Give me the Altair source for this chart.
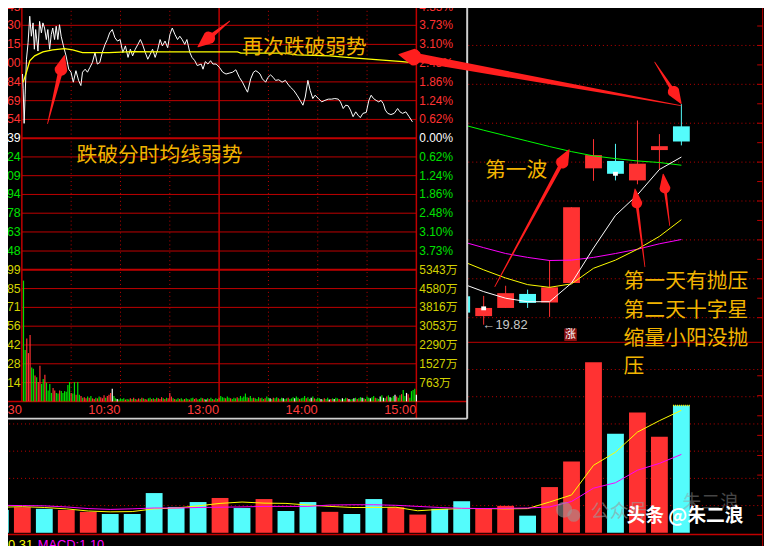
import altair as alt
import pandas as pd

# ------------------------------------------------------------------
# Intraday panel (分时): minutes after 9:30 (0..240), % vs prev close 24.39
# ------------------------------------------------------------------
price_min = [0.4, 0.8, 1.4, 2.0, 2.8, 3.8, 4.8, 5.8, 6.8, 7.6,
             8.4, 9.8, 10.8, 11.9, 12.8, 13.8, 14.9, 15.8, 16.9, 17.9,
             18.8, 19.9, 20.9, 21.9, 22.9, 23.9, 25.3, 26.9, 28.5, 29.9,
             31.3, 32.9, 34.5, 35.9, 36.9, 38.5, 39.9, 41.4, 42.9, 44.5,
             45.9, 47.4, 48.9, 50.6, 52.0, 53.4, 55.0, 56.6, 58.2, 59.8,
             61.4, 63.0, 64.6, 66.0, 67.4, 69.0, 70.6, 72.1, 73.4, 75.1,
             76.6, 78.1, 79.5, 81.1, 82.7, 84.1, 85.5, 87.1, 88.7, 90.1,
             91.5, 93.1, 94.7, 96.1, 97.5, 99.1, 100.4, 102.2, 103.5, 105.2,
             106.7, 109.1, 110.2, 111.6, 113.2, 114.8, 116.2, 118.2, 120.2, 122.2,
             124.2, 126.2, 128.2, 130.2, 132.3, 134.2, 136.2, 137.3, 139.2, 140.9,
             142.3, 143.7, 144.9, 146.3, 148.3, 149.7, 151.3, 152.9, 154.3, 156.3,
             158.3, 160.3, 161.8, 163.3, 165.4, 167.4, 169.3, 171.0, 172.4, 174.0,
             175.4, 177.0, 178.4, 180.4, 182.4, 184.4, 186.4, 188.4, 190.4, 192.5,
             193.8, 195.5, 197.0, 198.5, 199.9, 201.5, 203.1, 204.5, 205.9, 207.5,
             209.5, 211.1, 212.5, 213.9, 215.5, 217.1, 218.5, 219.9, 221.1, 222.6,
             224.5, 226.5, 228.6, 230.0, 231.6, 233.6, 235.6, 237.6]
price_pct = [2.12, 1.63, 0.49, 1.43, 2.61, 3.16, 4.03, 3.37, 3.81, 2.94,
             3.59, 2.88, 3.86, 3.48, 3.81, 3.64, 3.26, 3.59, 2.94, 3.43,
             3.64, 3.26, 3.70, 3.26, 3.75, 3.37, 3.05, 2.72, 2.28, 2.18,
             1.85, 2.23, 1.91, 1.74, 2.18, 2.28, 2.18, 2.34, 2.50, 2.83,
             2.45, 2.50, 2.83, 3.10, 3.26, 3.48, 3.59, 3.32, 3.21, 3.26,
             2.83, 3.05, 2.67, 2.94, 2.72, 2.94, 3.10, 3.26, 3.10, 2.83,
             2.61, 2.77, 2.94, 2.67, 2.94, 3.26, 3.05, 3.21, 2.99, 3.43,
             3.64, 3.43, 3.26, 3.37, 3.26, 3.10, 3.26, 2.83, 2.67, 2.56,
             2.40, 2.45, 2.28, 2.53, 2.45, 2.56, 2.45, 2.45, 2.34, 2.18,
             2.12, 2.15, 2.18, 2.26, 2.01, 1.85, 1.63, 1.52, 1.96, 2.18,
             2.23, 2.18, 2.12, 1.96, 1.85, 2.01, 2.09, 2.01, 1.91, 1.93,
             1.85, 1.91, 1.79, 1.69, 1.58, 1.42, 1.25, 1.09, 1.36, 1.91,
             1.58, 1.31, 1.42, 1.31, 1.20, 1.25, 1.29, 1.29, 1.31, 1.29,
             1.20, 0.98, 1.09, 1.07, 0.93, 0.71, 0.87, 0.76, 0.68, 0.82,
             0.85, 1.25, 1.42, 1.31, 1.25, 1.20, 1.25, 1.14, 0.93, 0.82,
             0.78, 0.82, 0.98, 0.87, 0.82, 0.87, 0.71, 0.54]
avg_min = [0.8, 2.8, 4.8, 7.8, 12.8, 18.8, 25.9, 30.9, 36.9, 53.0, 67.0, 87.1,
           107.2, 131.2, 133.2, 159.3, 167.4, 187.4, 197.5, 217.5, 231.6, 237.6]
avg_pct = [1.85, 2.18, 2.56, 2.72, 2.85, 2.92, 2.96, 2.92, 2.83, 2.83, 2.86, 2.85,
           2.85, 2.85, 2.81, 2.81, 2.75, 2.72, 2.67, 2.59, 2.53, 2.50]
# per-minute volume (百手), minutes 1..240, and tick direction r/g/w
ivol = [200, 85, 104, 80, 110, 56, 54, 43, 40, 32, 59, 29, 37, 44, 31, 18, 29, 14, 22, 18,
        14, 13, 18, 17, 14, 17, 16, 27, 32, 14, 13, 32, 11, 32, 11, 9, 6, 7, 5, 8,
        6, 9, 5, 4, 6, 5, 8, 7, 5, 10, 6, 9, 11, 14, 21, 9, 5, 4, 3, 5,
        4, 5, 3, 4, 3, 5, 4, 6, 4, 3, 5, 4, 6, 5, 4, 3, 5, 6, 4, 5,
        4, 6, 5, 4, 7, 5, 4, 6, 5, 14, 8, 5, 4, 3, 5, 4, 5, 3, 4, 5,
        4, 3, 5, 6, 4, 5, 3, 4, 6, 5, 4, 3, 5, 4, 6, 4, 3, 5, 4, 6,
        9, 7, 6, 5, 8, 6, 5, 4, 6, 5, 7, 5, 9, 6, 8, 13, 7, 6, 9, 5,
        6, 5, 4, 7, 5, 6, 4, 5, 8, 6, 5, 4, 6, 5, 7, 5, 4, 6, 5, 4,
        5, 6, 4, 5, 7, 5, 8, 6, 4, 5, 6, 9, 5, 7, 4, 6, 8, 5, 4, 6,
        5, 4, 3, 5, 4, 6, 3, 4, 5, 4, 6, 5, 4, 3, 5, 4, 6, 5, 4, 3,
        4, 5, 6, 4, 5, 7, 6, 5, 4, 8, 6, 5, 7, 9, 6, 5, 4, 8, 10, 6,
        5, 8, 10, 7, 6, 9, 11, 8, 6, 10, 12, 19, 9, 14, 12, 6, 17, 19, 21, 11]
ivol_dir = ("ggrrrggrgrrggrggggrr" "ggrggggggrggrggrgrrg" "rgrrgrgrrrgrrrwggwgg"
            "ggrggrgrgrrgrgrrggrg" "rgrrrgrgrrrgrggrggrg" "grggrrgggrgwgrggrggr"
            "gggrggrgggrggggggrgg" "rgggrggrggwgrggrggwg" "grgggwggrgggrggwgrgg"
            "gwgrggwrgwggrgwggrwg" "gwgrggwgrggwggrggwgw" "grgwggwrggrggwrggggw")

pct_ticks = [4.35, 3.73, 3.10, 2.48, 1.86, 1.24, 0.62, 0.0,
             -0.62, -1.24, -1.86, -2.48, -3.10, -3.73]
pct_labels = ["4.35%", "3.73%", "3.10%", "2.48%", "1.86%", "1.24%", "0.62%", "0.00%",
              "0.62%", "1.24%", "1.86%", "2.48%", "3.10%", "3.73%"]
price_labels = ["25.45", "25.30", "25.15", "25.00", "24.84", "24.69", "24.54", "24.39",
                "24.24", "24.09", "23.94", "23.78", "23.63", "23.48"]
ivol_ticks = [217.99, 186.85, 155.71, 124.56, 93.42, 62.28, 31.14]
ivol_left_labels = ["21799", "18685", "15571", "12456", "9342", "6228", "3114"]
ivol_right_labels = ["5343万", "4580万", "3816万", "3053万", "2290万", "1527万", "763万"]
time_ticks = [0, 60, 120, 180, 240]
time_labels = ["9:30", "10:30", "13:00", "14:00", "15:00"]
time_grid = [30, 60, 90, 150, 180, 210]

# ------------------------------------------------------------------
# Daily K-line panel: day index 0..31 (31 = the intraday day)
# ------------------------------------------------------------------
cdl_idx = list(range(21, 32))
cdl_open = [20.55, 20.04, 20.25, 20.61, 20.39, 20.89, 23.84, 24.03, 23.53, 24.31, 24.92]
cdl_close = [20.13, 20.25, 20.63, 20.38, 20.78, 22.84, 24.18, 23.70, 23.96, 24.41, 24.53]
cdl_high = [20.60, 20.56, 20.82, 20.72, 21.48, 22.84, 24.59, 24.47, 25.07, 24.72, 25.49]
cdl_low = [20.05, 19.82, 20.25, 20.25, 20.02, 20.89, 23.52, 23.53, 23.43, 23.81, 24.43]
ma5 = [20.88, 20.67, 20.50, 20.41, 20.41, 20.89, 21.79, 22.63, 23.16, 23.81, 24.13]
ma10 = [21.46, 21.23, 21.02, 20.85, 20.78, 20.87, 21.27, 21.48, 21.76, 22.09, 22.52]
ma20 = [21.96, 21.80, 21.65, 21.55, 21.47, 21.48, 21.55, 21.65, 21.76, 21.90, 22.01]
ma60 = [24.97, 24.82, 24.68, 24.54, 24.40, 24.27, 24.16, 24.09, 24.03, 23.99, 23.92]
mark_days = [22, 28]
mark_price = [20.24, 23.70]
price_grid = [20, 21, 22, 23, 24, 25, 26, 27, 28]

dvol = [0.84, 0.94, 0.88, 0.84, 0.77, 0.69, 0.69, 1.46, 0.95, 1.13, 1.28, 0.91, 1.24, 0.80,
        1.13, 0.77, 0.69, 1.24, 0.94, 0.67, 0.88, 1.16, 0.89, 0.99, 0.63, 1.68, 2.62, 6.27,
        3.64, 4.42, 3.53, 4.68]
dvol_dir = "crcrrcccccrcrccrccrrccrrcrrrcrrc"
vma5 = [0.94, 0.96, 0.93, 0.88, 0.80, 0.77, 0.78, 0.88, 0.91, 0.99, 1.08, 1.13, 1.09, 1.08,
        1.02, 0.97, 0.93, 0.93, 0.94, 0.81, 0.86, 0.89, 0.89, 0.88, 0.89, 1.13, 1.39, 2.48,
        2.96, 3.70, 4.12, 4.50]
vma10 = [1.01, 1.00, 0.99, 0.95, 0.89, 0.86, 0.88, 0.91, 0.91, 0.93, 0.94, 0.95, 0.97, 0.97,
         0.97, 1.02, 1.03, 1.03, 1.01, 0.97, 0.93, 0.90, 0.89, 0.90, 0.91, 0.95, 1.15, 1.64,
         1.84, 2.30, 2.55, 2.88]
dvol_grid = [1, 2, 3, 4, 5, 6]

# annotations
intra_notes = ["再次跌破弱势", "跌破分时均线弱势"]
intra_note_min = [171.9, 83.7]
intra_note_pct = [2.99, -0.60]
day_notes = ["第一波", "第一天有抛压", "第二天十字星", "缩量小阳没抛", "压"]
day_note_k = [23.48, 28.37, 28.37, 28.37, 28.37]
day_note_p = [23.77, 20.91, 20.18, 19.46, 18.73]
day_note_align = ["center", "left", "left", "left", "left"]
# arrows: tail -> head
intra_arrows = [((15.65, 0.48), (25.9, 2.73), 0.20, 5, 13),
                ((126.4, 3.87), (107.1, 3.02), 0.34, 5, 13)]
day_arrows = [((30.98, 25.45), (18.14, 26.77), 0.05, 9, 17),
              ((29.79, 26.57), (30.99, 25.51), 0.28, 4, 12),
              ((22.51, 20.80), (25.89, 24.32), 0.09, 4, 13),
              ((29.34, 21.31), (28.89, 23.31), 0.18, 3, 11),
              ((30.47, 22.37), (30.17, 23.69), 0.27, 3, 11)]

# ------------------------------------------------------------------
OFF = 8
W, H = 764, 538
RED = "#ff3232"
CYAN = "#54fcfc"
GRN = "#00e000"
GRID = "#c00000"
NUMF = "Liberation Sans, Noto Sans CJK SC"
CJK = "Noto Sans CJK SC"
GOLD = "#f2b400"


def lin(domain, rng):
    return alt.Scale(domain=domain, range=rng, nice=False, zero=False)


X_MIN = lin([0, 240], [22 - OFF, 420.7 - OFF])
Y_PCT = lin([-4.35, 4.35], [269.7 - OFF, 3.7 - OFF])
Y_IVOL = lin([0, 217.99], [402.7 - OFF, 269.7 - OFF])
X_DAY = lin([0, 31], [0.3 - OFF, 688.5 - OFF])
Y_PRICE = lin([20, 28], [318.1 - OFF, 3.7 - OFF])
Y_DVOL = lin([0, 6], [535.5 - OFF, 370.5 - OFF])

HW = 0.383  # candle half width in day units


def ch(d):
    return alt.Chart(pd.DataFrame(d))


def enc(xs, ys, x="x", y="y", x2=None, y2=None, **kw):
    e = dict(x=alt.X(f"{x}:Q", scale=xs, axis=None),
             y=alt.Y(f"{y}:Q", scale=ys, axis=None))
    if x2:
        e["x2"] = alt.X2(x2)
    if y2:
        e["y2"] = alt.Y2(y2)
    e.update(kw)
    return e


def hlines(vals, x0, x1, xs, ys, **mk):
    n = len(vals)
    return ch({"y": vals, "x": [x0] * n, "x2": [x1] * n}).mark_rule(**mk).encode(
        **enc(xs, ys, x2="x2"))


def vlines(vals, y0, y1, xs, ys, **mk):
    n = len(vals)
    return ch({"x": vals, "y": [y0] * n, "y2": [y1] * n}).mark_rule(**mk).encode(
        **enc(xs, ys, y2="y2"))


def texts(xv, yv, tv, xs, ys, colors=None, **mk):
    d = {"x": xv, "y": yv, "t": tv}
    kw = {"text": alt.Text("t:N")}
    if colors is not None:
        d["c"] = colors
        kw["color"] = alt.Color("c:N", scale=None)
    return ch(d).mark_text(**mk).encode(**enc(xs, ys, **kw))


def arrows(specs, xs, ys):
    rows = []
    for i, (tail, head, f, wn, wh) in enumerate(specs):
        nx = head[0] + (tail[0] - head[0]) * f
        ny = head[1] + (tail[1] - head[1]) * f
        rows += [dict(g=f"{i}s", o=0, x=tail[0], y=tail[1], w=0.8),
                 dict(g=f"{i}s", o=1, x=nx, y=ny, w=wn),
                 dict(g=f"{i}h", o=0, x=nx, y=ny, w=wh),
                 dict(g=f"{i}h", o=1, x=head[0], y=head[1], w=0)]
    return ch(rows).mark_trail(color="#ff1e1e").encode(
        **enc(xs, ys, size=alt.Size("w:Q", scale=None), detail="g:N", order="o:Q"))


layers = []

# ---------------- daily panel background grid ----------------
layers.append(hlines(price_grid, -0.5, 34.7, X_DAY, Y_PRICE,
                     color=GRID, strokeDash=[1, 3], strokeWidth=1))
layers.append(hlines(dvol_grid, -0.5, 34.7, X_DAY, Y_DVOL,
                     color=GRID, strokeDash=[1, 3], strokeWidth=1))
layers.append(hlines([7.0], 21.2, 34.7, X_DAY, Y_DVOL, color=GRID, strokeWidth=1))
layers.append(hlines([-0.06], -0.5, 34.7, X_DAY, Y_DVOL, color=GRID, strokeWidth=1.5))
layers.append(vlines([34.7], 14.0, 28.4, X_DAY, Y_PRICE, color=GRID, strokeWidth=1))
ptick = [20 + 0.5 * i for i in range(17)]
layers.append(hlines(ptick, 34.45, 34.7, X_DAY, Y_PRICE, color=GRID, strokeWidth=1))
layers.append(hlines([0.64, 1.36, 2.12, 2.84, 3.58, 4.30, 5.04, 5.77], 34.45, 34.7,
                     X_DAY, Y_DVOL, color=GRID, strokeWidth=1))

# ---------------- daily volume ----------------
vk = list(range(len(dvol)))
layers.append(ch({"x": [k - HW for k in vk], "x2": [k + HW for k in vk],
                  "y": [0] * len(vk), "y2": dvol,
                  "c": [RED if d == "r" else CYAN for d in dvol_dir]})
              .mark_rect().encode(**enc(X_DAY, Y_DVOL, x2="x2", y2="y2",
                                        color=alt.Color("c:N", scale=None))))
layers.append(ch({"x": [31 - HW], "x2": [31 + HW], "y": [dvol[-1]]}).mark_rule(
    color="#ffff00", strokeDash=[1, 1], strokeWidth=1.5).encode(**enc(X_DAY, Y_DVOL, x2="x2")))
layers.append(ch({"x": vk, "y": vma5}).mark_line(color="#ffff00", strokeWidth=1)
              .encode(**enc(X_DAY, Y_DVOL)))
layers.append(ch({"x": vk, "y": vma10}).mark_line(color="#ff00ff", strokeWidth=1)
              .encode(**enc(X_DAY, Y_DVOL)))

# ---------------- candles ----------------
ccol = [RED if c >= o else CYAN for o, c in zip(cdl_open, cdl_close)]
layers.append(ch({"x": cdl_idx, "y": cdl_low, "y2": cdl_high, "c": ccol}).mark_rule(
    strokeWidth=1).encode(**enc(X_DAY, Y_PRICE, y2="y2", color=alt.Color("c:N", scale=None))))
layers.append(ch({"x": [k - HW for k in cdl_idx], "x2": [k + HW for k in cdl_idx],
                  "y": cdl_open, "y2": cdl_close, "c": ccol}).mark_rect().encode(
    **enc(X_DAY, Y_PRICE, x2="x2", y2="y2", color=alt.Color("c:N", scale=None))))
layers.append(ch({"x": [k - 0.11 for k in mark_days], "x2": [k + 0.11 for k in mark_days],
                  "y": [p - 0.05 for p in mark_price], "y2": [p + 0.05 for p in mark_price]})
              .mark_rect(color="white").encode(**enc(X_DAY, Y_PRICE, x2="x2", y2="y2")))
for vals, col in [(ma60, "#00ff00"), (ma20, "#ff00ff"), (ma10, "#ffff00"), (ma5, "#ffffff")]:
    layers.append(ch({"x": cdl_idx, "y": vals}).mark_line(color=col, strokeWidth=1)
                  .encode(**enc(X_DAY, Y_PRICE)))
# low label and limit-up flag
layers.append(texts([21.95], [19.80], ["←19.82"], X_DAY, Y_PRICE, font=NUMF, fontSize=13,
                    color="#c8c8c8", align="left", baseline="middle"))
layers.append(ch({"x": [25.67], "x2": [26.24], "y": [19.40], "y2": [19.72]})
              .mark_rect(color="#8c1010").encode(**enc(X_DAY, Y_PRICE, x2="x2", y2="y2")))
layers.append(texts([25.955], [19.56], ["涨"], X_DAY, Y_PRICE, font=CJK, fontSize=11,
                    color="white", align="center", baseline="middle"))

# ---------------- intraday inset ----------------
layers.append(ch({"x": [-13.3], "x2": [270.9], "y": [-9.27], "y2": [4.6]})
              .mark_rect(color="black").encode(**enc(X_MIN, Y_PCT, x2="x2", y2="y2")))
layers.append(hlines([t for t in pct_ticks if t != 0], 0, 240, X_MIN, Y_PCT,
                     color=GRID, strokeWidth=1))
layers.append(hlines([0.0, -4.35], 0, 240, X_MIN, Y_PCT, color=GRID, strokeWidth=2))
layers.append(hlines(ivol_ticks[1:], 0, 240, X_MIN, Y_IVOL, color=GRID, strokeWidth=1))
layers.append(hlines([0], -13.3, 270.9, X_MIN, Y_IVOL, color=GRID, strokeWidth=1.5))
layers.append(vlines(time_grid, 4.47, -8.70, X_MIN, Y_PCT, color=GRID,
                     strokeDash=[1, 3], strokeWidth=1))
layers.append(vlines([0, 120], 4.47, -8.70, X_MIN, Y_PCT, color=GRID, strokeWidth=1.5))
layers.append(vlines([240], 4.47, -9.27, X_MIN, Y_PCT, color=GRID, strokeWidth=1.5))
# border of inset
layers.append(vlines([270.9], 4.6, -9.27, X_MIN, Y_PCT, color="#cfcfcf", strokeWidth=2))
layers.append(hlines([-9.27], -13.3, 270.9, X_MIN, Y_PCT, color="#cfcfcf", strokeWidth=2))

# labels
pcol = [RED if t > 0 else ("#ffffff" if t == 0 else GRN) for t in pct_ticks]
layers.append(texts([-0.7] * len(pct_ticks), pct_ticks, price_labels, X_MIN, Y_PCT, pcol,
                    font=NUMF, fontSize=12.5, align="right", baseline="middle"))
layers.append(texts([241.8] * len(pct_ticks), pct_ticks, pct_labels, X_MIN, Y_PCT, pcol,
                    font=NUMF, fontSize=12, align="left", baseline="middle"))
layers.append(texts([-0.7] * 7, ivol_ticks, ivol_left_labels, X_MIN, Y_IVOL,
                    font=NUMF, fontSize=12.5, color="#d2d200", align="right", baseline="middle"))
layers.append(texts([241.8] * 7, ivol_ticks, ivol_right_labels, X_MIN, Y_IVOL,
                    font=NUMF, fontSize=12, color="#d2d200", align="left", baseline="middle"))
layers.append(texts(time_ticks, [-8.98] * 5, time_labels, X_MIN, Y_PCT,
                    font=NUMF, fontSize=13, color="#ff3c3c", align="right", baseline="middle"))

# intraday volume bars
im = list(range(1, len(ivol) + 1))
icol = [RED if d == "r" else (GRN if d == "g" else "#ffffff") for d in ivol_dir]
layers.append(ch({"x": im, "y": [0] * len(im), "y2": ivol, "c": icol}).mark_rule(
    strokeWidth=1.2).encode(**enc(X_MIN, Y_IVOL, y2="y2", color=alt.Color("c:N", scale=None))))
# price and average lines
layers.append(ch({"x": price_min, "y": price_pct}).mark_line(color="white", strokeWidth=1)
              .encode(**enc(X_MIN, Y_PCT)))
layers.append(ch({"x": avg_min, "y": avg_pct}).mark_line(color="#ffff00", strokeWidth=1.3)
              .encode(**enc(X_MIN, Y_PCT)))

# ---------------- annotations ----------------
layers.append(texts(intra_note_min, intra_note_pct, intra_notes, X_MIN, Y_PCT,
                    font=CJK, fontSize=21, color=GOLD, align="center", baseline="middle"))
for t, k, p, a in zip(day_notes, day_note_k, day_note_p, day_note_align):
    layers.append(texts([k], [p], [t], X_DAY, Y_PRICE, font=CJK, fontSize=21, color=GOLD,
                        align=a, baseline="middle"))
layers.append(arrows(intra_arrows, X_MIN, Y_PCT))
layers.append(arrows(day_arrows, X_DAY, Y_PRICE))

# bottom indicator caption (cut off by the window edge)
layers.append(texts([0.35], [-0.23], ["0.31"], X_DAY, Y_DVOL, font=NUMF, fontSize=13,
                    color="#ffff00", align="left", baseline="top"))
layers.append(texts([1.70], [-0.23], ["MACD:1.10"], X_DAY, Y_DVOL, font=NUMF, fontSize=13,
                    color="#ff00ff", align="left", baseline="top"))

# watermark
layers.append(ch({"x": [25.66, 26.1], "y": [0.85, 0.64], "s": [260, 170]}).mark_circle(
    color="#9a9a9a", opacity=0.55).encode(**enc(X_DAY, Y_DVOL, size=alt.Size("s:Q", scale=None))))
layers.append(texts([26.88], [0.76], ["公众号"], X_DAY, Y_DVOL, font=CJK, fontSize=19,
                    color="#9a9a9a", opacity=0.6, align="left", baseline="middle"))
layers.append(texts([31.05], [1.1], ["朱二浪"], X_DAY, Y_DVOL, font=CJK, fontSize=19,
                    color="#9a9a9a", opacity=0.45, align="left", baseline="middle"))
layers.append(texts([28.5], [0.6], ["头条 @朱二浪"], X_DAY, Y_DVOL, font=CJK, fontSize=19,
                    fontWeight="bold", color="white", align="left", baseline="middle"))

chart = alt.layer(*layers).properties(
    width=W, height=H, background="#000000", padding=0,
    autosize=alt.AutoSizeParams(type="none"),
).resolve_scale(x="independent", y="independent").configure_view(stroke=None)

chart.save("out.html", embed_options={"renderer": "svg", "actions": False})
